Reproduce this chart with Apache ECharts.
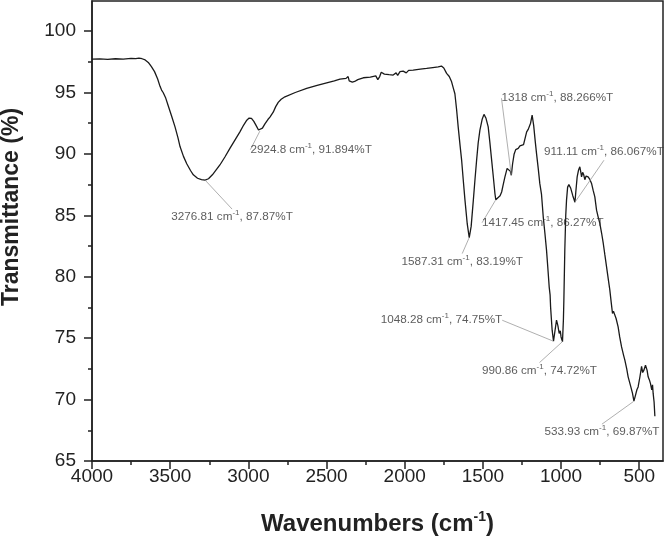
<!DOCTYPE html>
<html><head><meta charset="utf-8">
<script src="https://cdn.jsdelivr.net/npm/echarts@6/dist/echarts.min.js"></script>
<style>html,body{margin:0;padding:0;background:#fff}#c{width:665px;height:537px}</style>
</head><body><div id="c"></div>
<script>
// FTIR spectrum: [wavenumber (cm-1), transmittance (%T)]
const spectrum = [
[4000,97.72],[3950,97.74],[3900,97.70],[3850,97.75],[3800,97.72],[3750,97.78],[3720,97.76],[3700,97.80],[3680,97.75],[3660,97.65],
[3640,97.45],[3620,97.10],[3600,96.70],[3580,96.10],[3565,95.50],[3555,95.20],[3545,95.00],[3530,94.60],[3512,93.90],[3490,93.05],
[3469,92.20],[3450,91.30],[3437,90.60],[3415,89.80],[3394,89.20],[3370,88.65],[3352,88.30],[3325,88.02],[3300,87.90],[3276.81,87.87],
[3255,87.98],[3230,88.30],[3200,88.80],[3182,89.10],[3150,89.75],[3118,90.45],[3085,91.15],[3054,91.80],[3030,92.35],[3010,92.75],
[2995,92.92],[2980,92.90],[2965,92.65],[2950,92.30],[2935,91.95],[2924.8,91.894],[2910,92.10],[2894,92.45],[2875,92.80],[2862,93.00],
[2850,93.10],[2841,93.40],[2825,93.85],[2809,94.20],[2790,94.45],[2766,94.65],[2700,95.00],[2627,95.33],[2560,95.58],[2499,95.79],
[2450,95.95],[2414,96.09],[2375,96.15],[2362,96.30],[2355,95.95],[2345,96.05],[2335,95.85],[2320,95.90],[2300,96.05],[2265,96.20],
[2220,96.25],[2185,96.35],[2172,96.05],[2160,96.30],[2150,96.65],[2130,96.50],[2100,96.45],[2074,96.42],[2055,96.60],[2045,96.40],
[2030,96.70],[2010,96.74],[1990,96.60],[1975,96.80],[1946,96.82],[1900,96.90],[1860,96.96],[1820,97.03],[1786,97.09],[1765,97.15],
[1750,97.00],[1732,96.56],[1715,96.30],[1700,95.87],[1690,95.40],[1679,94.90],[1668,93.60],[1658,92.20],[1646,90.70],[1636,89.50],
[1625,87.80],[1615,86.30],[1600,84.30],[1587.31,83.19],[1575,84.10],[1561,86.24],[1550,88.00],[1540,89.50],[1530,90.90],[1519,91.94],
[1505,92.80],[1493,93.22],[1480,92.90],[1466,92.20],[1455,90.90],[1444,89.50],[1433,88.10],[1423,86.78],[1417.45,86.27],[1405,86.35],
[1390,86.60],[1380,86.90],[1370,87.50],[1359,88.13],[1345,88.82],[1335,88.90],[1325,88.60],[1318,88.266],[1310,89.20],[1300,90.00],
[1290,90.35],[1274,90.45],[1263,90.65],[1253,90.58],[1240,90.75],[1231,90.72],[1220,91.80],[1210,92.00],[1204,92.10],[1195,92.50],
[1185,93.16],[1175,92.30],[1165,91.00],[1157,90.04],[1145,88.70],[1136,87.60],[1125,86.70],[1114,84.88],[1103,83.50],[1093,82.17],
[1085,80.80],[1076,79.18],[1070,78.50],[1067,77.55],[1060,76.20],[1057,75.65],[1048.28,74.75],[1040,75.50],[1029,76.47],[1020,76.00],
[1012,75.38],[1005,75.60],[1000,75.10],[990.86,74.72],[985,76.50],[982,78.10],[976,82.17],[970,85.00],[965,86.24],[958,87.30],
[950,87.50],[944,87.60],[938,87.20],[933,87.05],[925,86.60],[911.11,86.067],[905,87.00],[897,88.13],[888,88.70],[880,88.95],
[872,88.40],[869,88.13],[862,88.50],[855,88.30],[848,87.90],[840,88.20],[827,88.13],[815,87.90],[805,87.60],[795,87.05],
[784,86.50],[773,85.42],[763,84.88],[752,84.34],[740,83.50],[730,82.71],[720,81.80],[709,80.81],[698,79.80],[688,78.91],
[680,78.00],[671,77.01],[665,77.20],[656,77.14],[648,76.60],[635,75.92],[625,75.10],[613,74.29],[600,73.60],[592,73.21],
[580,72.50],[571,71.85],[555,71.10],[543,70.50],[533.93,69.87],[525,70.30],[515,70.80],[507,71.03],[495,71.90],[485,72.70],
[478,72.20],[470,72.40],[460,72.80],[450,72.40],[443,71.85],[435,71.60],[428,71.30],[420,70.80],[415,71.20],[411,70.50],
[405,69.80],[400,68.65]
];

const xMajorTicks = [4000,3500,3000,2500,2000,1500,1000,500];
const xMinorTicks = [3750,3250,2750,2250,1750,1250,750];
const yMajorTicks = [65,70,75,80,85,90,95,100];
const yMinorTicks = [67.5,72.5,77.5,82.5,87.5,92.5,97.5];

const peakWavenumbers = [3276.81, 2924.8, 1318, 911.11, 1417.45, 1587.31, 1048.28, 990.86, 533.93];
const peakTransmittance = [87.87, 91.894, 88.266, 86.067, 86.27, 83.19, 74.75, 74.72, 69.87];

// label layout offsets (pixels) for the annotations
const labelOffsets = [[27,37],[51,19],[46,-77],[29,-50],[47,23],[-7,24],[-112,-21],[-23,29],[-32,31]];

const FONT = '"Liberation Sans", Arial, Helvetica, sans-serif';
const INK = '#222';

const chart = echarts.init(document.getElementById('c'), null, {renderer: 'canvas'});

const common = {min: 348, max: 4000, inverse: true, type: 'value'};
const plain = v => String(v);
chart.setOption({
  animation: false,
  backgroundColor: '#fff',
  grid: {left: 92, right: 2, top: 1, bottom: 76, containLabel: false, outerBoundsMode: 'none',
         show: true, borderColor: INK, borderWidth: 1.5, backgroundColor: 'transparent'},
  xAxis: [
    Object.assign({}, common, {
      position: 'bottom',
      name: 'Wavenumbers (cm{sup|-1})',
      nameLocation: 'middle',
      nameGap: 49,
      nameTextStyle: {fontSize: 24, fontWeight: 'bold', color: INK, fontFamily: FONT, lineHeight: 29,
        rich: {sup: {fontSize: 14, fontWeight: 'bold', color: INK, fontFamily: FONT, lineHeight: 14, verticalAlign: 'top'}}},
      axisLine: {show: true, lineStyle: {color: INK, width: 1.5}},
      axisTick: {show: true, inside: false, length: 8, lineStyle: {color: INK, width: 1.5}, customValues: xMajorTicks},
      axisLabel: {show: true, fontSize: 19, color: INK, fontFamily: FONT, margin: 6, customValues: xMajorTicks, formatter: plain},
      splitLine: {show: false}
    }),
    Object.assign({}, common, {
      position: 'bottom',
      axisLine: {show: false},
      axisTick: {show: true, inside: false, length: 4, lineStyle: {color: INK, width: 1.5}, customValues: xMinorTicks},
      axisLabel: {show: false},
      splitLine: {show: false}
    })
  ],
  yAxis: [
    {
      type: 'value', min: 65, max: 102.45, position: 'left',
      name: 'Transmittance (%)',
      nameLocation: 'middle',
      nameGap: 69,
      nameTextStyle: {fontSize: 23, fontWeight: 'bold', color: INK, fontFamily: FONT, padding: [0, 0, 0, 48]},
      axisLine: {show: true, lineStyle: {color: INK, width: 1.5}},
      axisTick: {show: true, inside: false, length: 8, lineStyle: {color: INK, width: 1.5}, customValues: yMajorTicks},
      axisLabel: {show: true, fontSize: 19, color: INK, fontFamily: FONT, margin: 16, customValues: yMajorTicks, formatter: plain},
      splitLine: {show: false}
    },
    {
      type: 'value', min: 65, max: 102.45, position: 'left',
      axisLine: {show: false},
      axisTick: {show: true, inside: false, length: 4, lineStyle: {color: INK, width: 1.5}, customValues: yMinorTicks},
      axisLabel: {show: false},
      splitLine: {show: false}
    }
  ],
  series: [
    {
      type: 'line',
      xAxisIndex: 0, yAxisIndex: 0,
      data: spectrum,
      showSymbol: false,
      symbol: 'none',
      smooth: false,
      silent: true,
      lineStyle: {color: '#1a1a1a', width: 1.3},
      z: 3
    },
    {
      type: 'scatter',
      xAxisIndex: 0, yAxisIndex: 0,
      data: peakWavenumbers.map((w, i) => [w, peakTransmittance[i]]),
      symbolSize: 1,
      itemStyle: {color: 'transparent'},
      silent: true,
      z: 5,
      label: {
        show: true,
        position: 'inside',
        fontSize: 11.7,
        lineHeight: 16,
        color: '#333',
        fontFamily: FONT,
        formatter: p => p.value[0] + ' cm{sup|-1}, ' + p.value[1] + '%T',
        rich: {sup: {fontSize: 8, lineHeight: 8, color: '#333', fontFamily: FONT, verticalAlign: 'top'}}
      },
      labelLine: {show: true, lineStyle: {color: '#9a9a9a', width: 0.8}},
      labelLayout: p => ({dx: labelOffsets[p.dataIndex][0], dy: labelOffsets[p.dataIndex][1]})
    }
  ]
});
</script>
</body></html>
